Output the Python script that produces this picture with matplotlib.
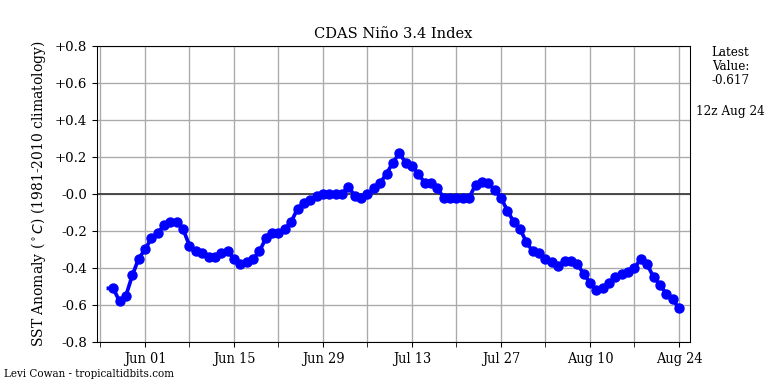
import datetime as dt
import matplotlib
matplotlib.use("Agg")
import matplotlib.pyplot as plt
import matplotlib.dates as mdates

start_date = dt.datetime(2025, 5, 27)
values = [-0.51, -0.58, -0.55, -0.44, -0.35, -0.30, -0.24, -0.21, -0.17, -0.15,
          -0.15, -0.19, -0.28, -0.31, -0.32, -0.34, -0.34, -0.32, -0.31, -0.35,
          -0.38, -0.37, -0.35, -0.31, -0.24, -0.21, -0.21, -0.19, -0.15, -0.08,
          -0.05, -0.03, -0.01, 0.00, 0.00, 0.00, 0.00, 0.04, -0.01, -0.02,
          0.00, 0.03, 0.06, 0.11, 0.17, 0.22, 0.17, 0.15, 0.11, 0.06,
          0.06, 0.03, -0.02, -0.02, -0.02, -0.02, -0.02, 0.05, 0.065, 0.06,
          0.02, -0.02, -0.09, -0.15, -0.19, -0.26, -0.31, -0.32, -0.35, -0.37,
          -0.39, -0.36, -0.36, -0.38, -0.43, -0.48, -0.52, -0.51, -0.48, -0.45,
          -0.43, -0.42, -0.40, -0.35, -0.38, -0.45, -0.49, -0.54, -0.57, -0.617]
lead_value = -0.51
dates = [start_date + dt.timedelta(days=i) for i in range(len(values))]
lead_date = start_date - dt.timedelta(hours=18)

yticks = [-0.8, -0.6, -0.4, -0.2, 0.0, 0.2, 0.4, 0.6, 0.8]
ytick_labels = ["-0.8", "-0.6", "-0.4", "-0.2", "-0.0", "+0.2", "+0.4", "+0.6", "+0.8"]
major = [dt.datetime(2025, 6, 1) + dt.timedelta(days=14 * k) for k in range(7)]
minor = [dt.datetime(2025, 5, 25) + dt.timedelta(days=14 * k) for k in range(7)]

serif = "DejaVu Serif"
fig = plt.figure(figsize=(8, 4), dpi=96)
ax = fig.add_axes([0.1263, 0.1094, 0.7721, 0.7708])

ax.axhline(0, color="#444444", lw=1.4, zorder=2)
ax.plot([lead_date] + dates, [lead_value] + values, color="blue", lw=2.8,
        marker="o", markersize=6.8, markevery=list(range(1, len(values) + 1)), zorder=3)

ax.set_ylim(-0.8, 0.8)
ax.set_yticks(yticks)
ax.set_yticklabels(ytick_labels, fontfamily=serif, fontsize=10)
ax.set_xlim(dates[0] - dt.timedelta(days=2.55), dates[-1] + dt.timedelta(days=1.73))
ax.set_xticks(mdates.date2num(major))
ax.set_xticks(mdates.date2num(minor), minor=True)
ax.set_xticklabels([d.strftime("%b %d") for d in major], fontfamily=serif,
                   fontstretch="condensed", fontsize=10.8)
ax.tick_params(which="both", length=4)
ax.grid(True, which="both", color="#aaaaaa", lw=1.0, zorder=0)
ax.set_axisbelow(True)

ax.set_title("CDAS Niño 3.4 Index", fontfamily=serif, fontsize=11, pad=6)
ax.set_ylabel("SST Anomaly ($^\\circ C$) (1981-2010 climatology)", fontfamily=serif,
              fontsize=10.4, labelpad=5)

fig.text(0.951, 0.88, "Latest\nValue:\n-0.617", ha="center", va="top",
         fontfamily=serif, fontsize=9, linespacing=1.1)
fig.text(0.951, 0.71, "12z Aug 24", ha="center", va="center", fontfamily=serif, fontsize=9)
fig.text(0.005, 0.026, "Levi Cowan - tropicaltidbits.com", ha="left", va="center",
         fontfamily=serif, fontstretch="condensed", fontsize=8.6)

fig.savefig("out.png", dpi=96)
